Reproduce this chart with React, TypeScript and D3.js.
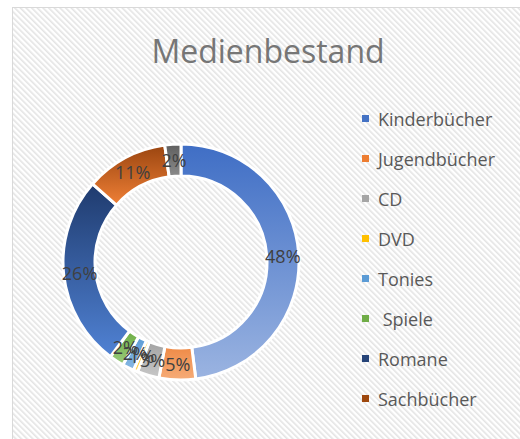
import React from "react";
import * as d3 from "d3";

const title = "Medienbestand";
const categories = ["Kinderbücher", "Jugendbücher", "CD", "DVD", "Tonies", " Spiele", "Romane", "Sachbücher", "Sonstiges"];
const values = [48, 5, 3, 0.6, 1.6, 2, 26.3, 11.3, 2.2];
const legendCount = 8;

const baseColors = ["#4472C4", "#ED7D31", "#A5A5A5", "#FFC000", "#5B9BD5", "#70AD47", "#264478", "#9E480E", "#636363"];
const gradTop = ["#3F6EC5", "#EF8A46", "#A3A3A3", "#FFC000", "#5B9BD5", "#6DAE45", "#1F3B6E", "#9A4510", "#5E5E5E"];
const gradBottom = ["#9BB4E1", "#F6AC78", "#C8C8C8", "#FFD966", "#88B8E3", "#9BCB7C", "#5082D4", "#F08036", "#8C8C8C"];

const W = 520;
const H = 439;
const cx = 181;
const cy = 262;
const rOuter = 118;
const rInner = 86;
const FONT = "'Open Sans', 'DejaVu Sans', sans-serif";

export default function App() {
  const total = d3.sum(values);
  const pie = d3.pie<number>().sort(null).value((d) => d);
  const arcs = pie(values);
  const arc = d3.arc<d3.PieArcDatum<number>>().innerRadius(rInner).outerRadius(rOuter);
  const labelArc = d3.arc<d3.PieArcDatum<number>>().innerRadius((rInner + rOuter) / 2).outerRadius((rInner + rOuter) / 2);
  const fmt = d3.format(".0%");
  const legendY = d3.scaleLinear().domain([0, 1]).range([119, 159]);

  return (
    <svg width={W} height={H} style={{ position: "absolute", left: 0, top: 0 }} xmlns="http://www.w3.org/2000/svg">
      <defs>
        <pattern id="hatch" width={4} height={4} patternUnits="userSpaceOnUse" patternTransform="rotate(-45)">
          <rect width={4} height={4} fill="#FFFFFF" />
          <rect width={1.6} height={4} fill="#E4E4E4" />
        </pattern>
        {arcs.map((a, i) => (
          <linearGradient key={i} id={`g${i}`} x1="0" y1="0" x2="0" y2="1">
            <stop offset="0" stopColor={gradTop[i]} />
            <stop offset="1" stopColor={gradBottom[i]} />
          </linearGradient>
        ))}
      </defs>
      <rect x={0} y={0} width={W} height={H} fill="#FFFFFF" />
      <rect x={12.5} y={7.5} width={W + 10} height={H + 10} fill="url(#hatch)" stroke="#D9D9D9" strokeWidth={1} />
      <text x={268} y={63} textAnchor="middle" fontFamily={FONT} fontSize={32} fill="#767676">
        {title}
      </text>
      <g transform={`translate(${cx},${cy})`}>
        {arcs.map((a, i) => (
          <path key={i} d={arc(a) || ""} fill={`url(#g${i})`} stroke="#FFFFFF" strokeWidth={3} />
        ))}
        {arcs.map((a, i) => {
          const [x, y] = labelArc.centroid(a);
          return (
            <text key={i} x={x} y={y} textAnchor="middle" dominantBaseline="central" fontFamily={FONT} fontSize={18} fill="#404040">
              {fmt(a.value / total)}
            </text>
          );
        })}
      </g>
      {categories.slice(0, legendCount).map((c, i) => (
        <g key={c} transform={`translate(0,${legendY(i)})`}>
          <rect x={362} y={-4} width={7} height={7} fill={baseColors[i]} />
          <text x={378} y={0} dominantBaseline="central" fontFamily={FONT} fontSize={18} fill="#595959" style={{ whiteSpace: "pre" }}>
            {c}
          </text>
        </g>
      ))}
    </svg>
  );
}
